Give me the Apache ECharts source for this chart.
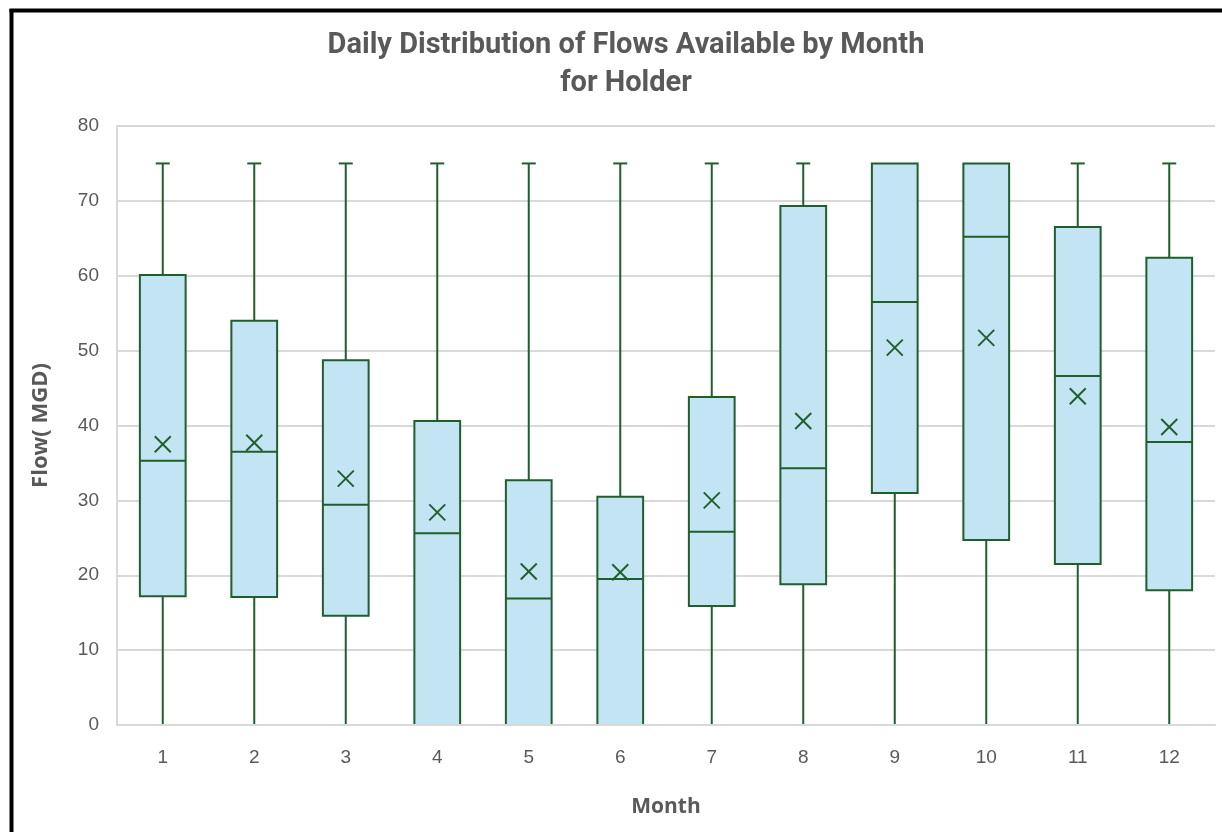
<!DOCTYPE html>
<html>
<head>
<meta charset="utf-8">
<style>
  html, body { margin: 0; padding: 0; background: #ffffff; }
  #chart { width: 1222px; height: 832px; }
</style>
<script src="https://cdn.jsdelivr.net/npm/echarts@6/dist/echarts.min.js"></script>
</head>
<body>
<div id="chart"></div>
<script>
// Monthly flow distribution (MGD): whisker ends, quartiles, median, mean
const months = ['1', '2', '3', '4', '5', '6', '7', '8', '9', '10', '11', '12'];
const lowV   = [0, 0, 0, 0, 0, 0, 0, 0, 0, 0, 0, 0];
const q1V    = [17.2, 17.1, 14.6, 0, 0, 0, 15.9, 18.8, 31.0, 24.7, 21.5, 18.0];
const medV   = [35.3, 36.5, 29.4, 25.6, 16.9, 19.5, 25.8, 34.3, 56.5, 65.2, 46.6, 37.8];
const q3V    = [60.1, 54.0, 48.7, 40.6, 32.7, 30.5, 43.8, 69.3, 75, 75, 66.5, 62.4];
const highV  = [75, 75, 75, 75, 75, 75, 75, 75, 75, 75, 75, 75];
const meanV  = [37.5, 37.7, 32.9, 28.4, 20.5, 20.4, 30.0, 40.6, 50.4, 51.7, 43.9, 39.8];
const yTicks = [0, 10, 20, 30, 40, 50, 60, 70, 80];

const rows = months.map((m, i) => [i, lowV[i], q1V[i], medV[i], q3V[i], highV[i], meanV[i]]);

const GREEN = '#1f5f2c';
const FILL = '#c3e4f3';
const TXT = '#595959';

function renderBox(params, api) {
  const idx = api.value(0);
  const lo = api.value(1), q1 = api.value(2), md = api.value(3),
        q3 = api.value(4), hi = api.value(5), mn = api.value(6);
  const cx = api.coord([idx, 0])[0];
  const band = api.size([1, 0])[0];
  const half = band * 0.25;
  const cap = 7;
  const y = v => api.coord([idx, v])[1];
  const line = (x1, y1, x2, y2, color) => ({
    type: 'line',
    shape: { x1, y1, x2, y2 },
    style: { stroke: color || GREEN, lineWidth: 2 }
  });
  const kids = [];
  if (hi > q3) {
    kids.push(line(cx, y(hi), cx, y(q3)));
    kids.push(line(cx - cap, y(hi), cx + cap, y(hi)));
  }
  if (lo < q1) {
    kids.push(line(cx, y(q1), cx, y(lo)));
    kids.push(line(cx - cap, y(lo), cx + cap, y(lo), 'rgba(31,95,44,0.35)'));
  }
  kids.push({
    type: 'rect',
    shape: { x: cx - half, y: y(q3), width: half * 2, height: y(q1) - y(q3) },
    style: { fill: FILL, stroke: GREEN, lineWidth: 2 }
  });
  kids.push(line(cx - half, y(md), cx + half, y(md)));
  const ym = y(mn), s = 8;
  kids.push(line(cx - s, ym - s, cx + s, ym + s));
  kids.push(line(cx - s, ym + s, cx + s, ym - s));
  return { type: 'group', children: kids };
}

const chart = echarts.init(document.getElementById('chart'), null, { renderer: 'canvas' });
chart.setOption({
  backgroundColor: '#ffffff',
  animation: false,
  title: {
    text: 'Daily Distribution of Flows Available by Month\nfor Holder',
    left: 621,
    top: 22,
    textAlign: 'center',
    textStyle: {
      fontFamily: '"Liberation Sans Narrow", "Roboto", sans-serif',
      fontWeight: 'bold',
      fontSize: 29,
      lineHeight: 38,
      color: TXT
    }
  },
  grid: { left: 117, right: 7, top: 126, bottom: 107, containLabel: false },
  xAxis: {
    type: 'category',
    data: months,
    name: 'Month',
    nameLocation: 'middle',
    nameGap: 72,
    nameTextStyle: { fontFamily: '"Open Sans", sans-serif', fontWeight: 'bold', fontSize: 21, color: TXT },
    axisLine: { show: true, lineStyle: { color: '#d9d9d9', width: 2 } },
    axisTick: { show: false },
    axisLabel: { margin: 23, fontFamily: '"Liberation Sans", Arial, sans-serif', fontSize: 19, color: TXT },
    splitLine: { show: false },
    z: 5
  },
  yAxis: {
    type: 'value',
    min: yTicks[0],
    max: yTicks[yTicks.length - 1],
    interval: 10,
    name: 'Flow( MGD)',
    nameLocation: 'middle',
    nameGap: 65,
    nameRotate: 90,
    nameTextStyle: { fontFamily: '"Open Sans", sans-serif', fontWeight: 'bold', fontSize: 22, color: TXT },
    axisLine: { show: true, lineStyle: { color: '#d9d9d9', width: 2 } },
    axisTick: { show: false },
    axisLabel: { margin: 18, fontFamily: '"Liberation Sans", Arial, sans-serif', fontSize: 19, color: TXT },
    splitLine: { show: true, lineStyle: { color: '#d9d9d9', width: 2 } }
  },
  series: [{
    type: 'custom',
    renderItem: renderBox,
    data: rows,
    encode: { x: 0, y: [1, 2, 3, 4, 5, 6] },
    clip: false,
    z: 3
  }],
  graphic: [
    { type: 'line', shape: { x1: 11.5, y1: 9, x2: 11.5, y2: 832 }, style: { stroke: '#000', lineWidth: 4 }, z: 100 },
    { type: 'line', shape: { x1: 9.5, y1: 10.5, x2: 1222, y2: 10.5 }, style: { stroke: '#000', lineWidth: 4 }, z: 100 }
  ]
});
</script>
</body>
</html>
